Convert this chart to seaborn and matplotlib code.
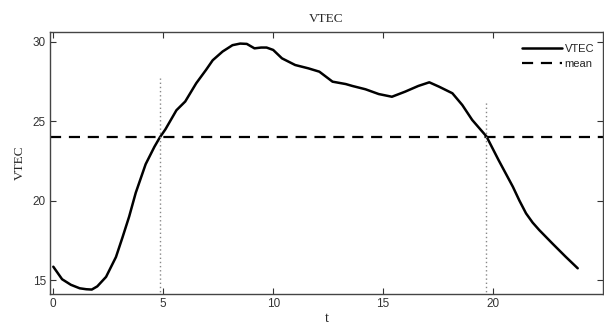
import numpy as np
import pandas as pd
import matplotlib
matplotlib.use("Agg")
import matplotlib.pyplot as plt
import seaborn as sns

t = [0, 0.4, 0.8, 1.2, 1.5, 1.75, 2.0, 2.4, 2.85, 3.15, 3.45, 3.75, 4.2, 4.6, 4.85,
     5.1, 5.35, 5.6, 6.0, 6.5, 6.95, 7.25, 7.7, 8.15, 8.5, 8.8, 9.15, 9.45, 9.7, 10.0,
     10.4, 11.0, 11.6, 12.1, 12.7, 13.3, 13.6, 14.2, 14.8, 15.4, 16.0, 16.6, 17.1, 17.55,
     18.15, 18.6, 19.05, 19.7, 20.25, 20.9, 21.2, 21.5, 21.8, 22.1, 22.7, 23.3, 23.85]
vtec = [15.84, 15.05, 14.7, 14.48, 14.42, 14.40, 14.6, 15.2, 16.45, 17.7, 19.0, 20.5, 22.3, 23.4, 24.0,
        24.5, 25.1, 25.7, 26.25, 27.4, 28.25, 28.85, 29.4, 29.8, 29.9, 29.88, 29.6, 29.65, 29.65, 29.5,
        28.97, 28.55, 28.34, 28.13, 27.5, 27.35, 27.23, 27.02, 26.72, 26.55, 26.87, 27.23, 27.46, 27.18,
        26.77, 26.03, 25.09, 24.05, 22.56, 20.88, 20.0, 19.2, 18.62, 18.15, 17.3, 16.47, 15.74]
mean_value = 24.0
cross_t = [4.85, 19.7]
cross_top = [27.7, 26.3]
x_ticks = [0, 5, 10, 15, 20]
y_ticks = [15, 20, 25, 30]

sns.set_theme(style="white")
plt.rcParams['font.family'] = ['Liberation Sans', 'DejaVu Sans']

df = pd.DataFrame({"t": t, "VTEC": vtec})

fig = plt.figure(figsize=(6.04, 3.29), dpi=100)
ax = fig.add_axes([50/604, 1-294/329, 553/604, 262/329])

sns.lineplot(data=df, x="t", y="VTEC", ax=ax, color="black", linewidth=1.8, label="VTEC")
ax.axhline(mean_value, color="black", linestyle=(0, (5, 3.5)), linewidth=1.6, label="mean")
ax.vlines(cross_t, 14.0, cross_top, colors="#888888", linestyles=(0, (1, 2)), linewidth=1.0)

ax.set_xlim(-0.15, 25)
ax.set_ylim(14.12, 30.63)
ax.set_xticks(x_ticks)
ax.set_yticks(y_ticks)
ax.tick_params(direction="in", length=4, width=0.8, labelsize=8.5, colors="#333333",
               top=True, right=True, bottom=True, left=True, pad=3)
for s in ax.spines.values():
    s.set_color("#444444")
    s.set_linewidth(1.0)

ax.set_title("VTEC", fontsize=9.5, family=["Liberation Serif"], pad=7)
ax.set_xlabel("t", fontsize=10.5, family=["Liberation Serif"], labelpad=1)
ax.set_ylabel("VTEC", fontsize=9.5, family=["Liberation Serif"], labelpad=5)

leg = ax.legend(loc="upper right", bbox_to_anchor=(1.0, 0.99), frameon=False, fontsize=8,
                handlelength=3.6, handletextpad=0.2, labelspacing=0.5, borderpad=0.3)

fig.savefig("out.png", dpi=100)
